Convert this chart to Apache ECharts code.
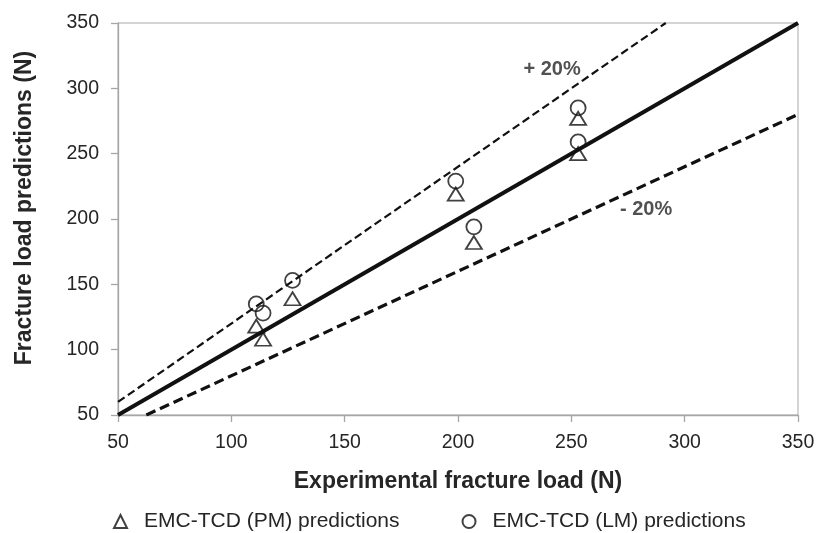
<!DOCTYPE html>
<html>
<head>
<meta charset="utf-8">
<script src="https://cdn.jsdelivr.net/npm/echarts@6/dist/echarts.min.js"></script>
<style>
  html, body { margin: 0; padding: 0; background: #fff; }
  #chart { width: 819px; height: 533px; }
</style>
</head>
<body>
<div id="chart"></div>
<script>
// Experimental fracture loads (N) and the two sets of predictions
const experimental = [111, 114, 127, 199, 207, 253, 253];
const pmPredictions = [118, 108, 139, 219, 182, 277, 250];
const lmPredictions = [135, 128, 153, 229, 194, 285, 259];

// Axis range and tick spacing
const axisMin = 50;
const axisMax = 350;
const tickStep = 50;

// Reference lines: perfect agreement and the +/-20% bands
const bandRatios = { exact: 1, upper: 1.2, lower: 0.8 };
const bandLabels = { upper: '+ 20%', lower: '- 20%' };

const seriesNames = ['EMC-TCD (PM) predictions', 'EMC-TCD (LM) predictions'];

function ratioLine(r) {
  const x0 = Math.max(axisMin, axisMin / r);
  const x1 = Math.min(axisMax, axisMax / r);
  return [[x0, x0 * r], [x1, x1 * r]];
}

function pairs(xs, ys) {
  return xs.map((x, i) => [x, ys[i]]);
}

const font = '"Liberation Sans", Arial, sans-serif';
const textColor = '#262626';

const chart = echarts.init(document.getElementById('chart'), null, { renderer: 'canvas' });

chart.setOption({
  animation: false,
  backgroundColor: '#fff',
  grid: {
    left: 118, right: 21, top: 23, bottom: 118,
    show: true, borderColor: '#ababab', borderWidth: 1
  },
  xAxis: {
    type: 'value', min: axisMin, max: axisMax, interval: tickStep,
    name: 'Experimental fracture load (N)',
    nameLocation: 'middle', nameGap: 55, nameMoveOverlap: false,
    nameTextStyle: { fontFamily: font, fontSize: 23, fontWeight: 'bold', color: textColor },
    axisLine: { lineStyle: { color: '#a6a6a6', width: 1.3 } },
    axisTick: { show: true, inside: false, length: 7, lineStyle: { color: '#a6a6a6', width: 1.3 } },
    axisLabel: { fontFamily: font, fontSize: 19.5, color: textColor, margin: 18 },
    splitLine: { show: false }
  },
  yAxis: {
    type: 'value', min: axisMin, max: axisMax, interval: tickStep,
    name: 'Fracture load predictions (N)',
    nameLocation: 'middle', nameGap: 82, nameRotate: 90, nameMoveOverlap: false,
    nameTextStyle: {
      fontFamily: font, fontSize: 23, fontWeight: 'bold', color: textColor,
      padding: [0, 0, 0, 22]
    },
    axisLine: { show: true, lineStyle: { color: '#a6a6a6', width: 1.3 } },
    axisTick: { show: true, inside: false, length: 7, lineStyle: { color: '#a6a6a6', width: 1.3 } },
    axisLabel: { fontFamily: font, fontSize: 19.5, color: textColor, margin: 19 },
    splitLine: { show: false }
  },
  legend: {
    top: 506, left: 108, itemGap: 62,
    itemWidth: 13, itemHeight: 13,
    textStyle: { fontFamily: font, fontSize: 21, color: textColor, padding: [0, 0, 0, 12] },
    data: [
      { name: seriesNames[0], icon: 'triangle' },
      { name: seriesNames[1], icon: 'circle' }
    ]
  },
  series: [
    {
      type: 'line', name: 'exact', data: ratioLine(bandRatios.exact),
      symbol: 'none', silent: true,
      lineStyle: { color: '#111', width: 4 }, z: 2
    },
    {
      type: 'line', name: 'upper', data: ratioLine(bandRatios.upper),
      symbol: 'none', silent: true,
      lineStyle: { color: '#111', width: 2.2, type: [8, 4] }, z: 2
    },
    {
      type: 'line', name: 'lower', data: ratioLine(bandRatios.lower),
      symbol: 'none', silent: true,
      lineStyle: { color: '#111', width: 3.2, type: [10, 5] }, z: 2
    },
    {
      type: 'scatter', name: 'bandText', silent: true,
      data: [
        { value: [241.5, 314.5], label: { formatter: bandLabels.upper } },
        { value: [283, 207.5], label: { formatter: bandLabels.lower } }
      ],
      symbolSize: 0,
      label: {
        show: true, position: 'inside',
        fontFamily: font, fontSize: 20, fontWeight: 'bold', color: textColor
      },
      z: 3
    },
    {
      type: 'scatter', name: seriesNames[0], data: pairs(experimental, pmPredictions),
      symbol: 'triangle', symbolSize: [16, 13],
      itemStyle: { color: 'rgba(255,255,255,0)', borderColor: '#111', borderWidth: 1.8 },
      z: 4
    },
    {
      type: 'scatter', name: seriesNames[1], data: pairs(experimental, lmPredictions),
      symbol: 'circle', symbolSize: 15,
      itemStyle: { color: 'rgba(255,255,255,0)', borderColor: '#111', borderWidth: 1.8 },
      z: 4
    }
  ]
});
</script>
</body>
</html>
